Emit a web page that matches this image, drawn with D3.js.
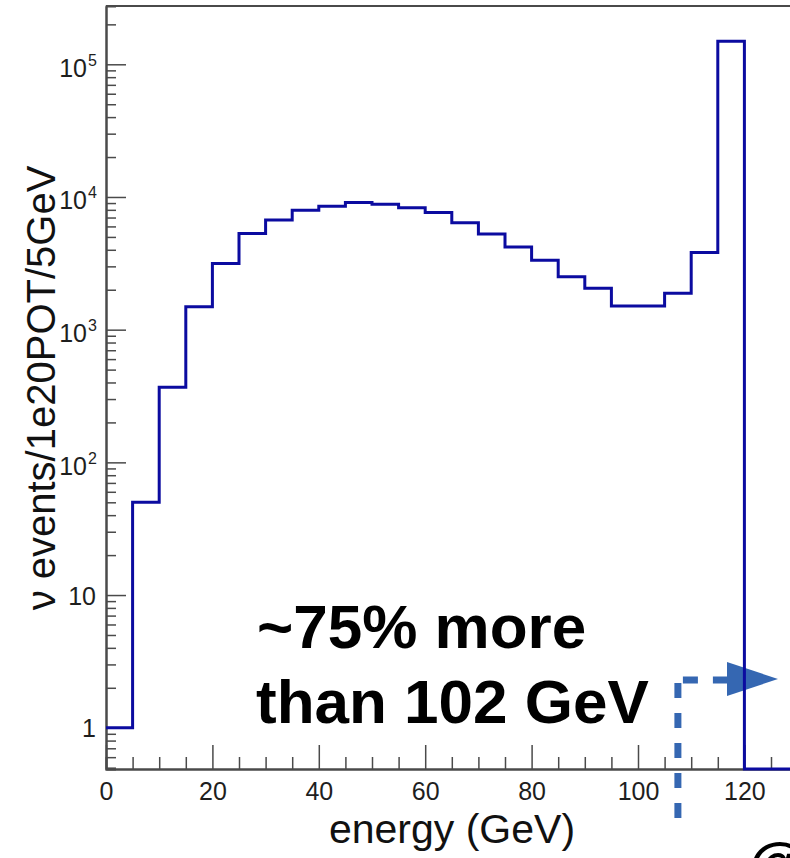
<!DOCTYPE html>
<html>
<head>
<meta charset="utf-8">
<script src="https://cdn.jsdelivr.net/npm/d3@7"></script>
<style>
body { margin: 0; background: #fff; }
svg { display: block; }
text { font-family: "Liberation Sans", Arial, sans-serif; }
</style>
</head>
<body>
<svg id="chart" width="790" height="858"></svg>
<script>
// histogram data: 5 GeV bins, low edges and contents
var binStarts = [0, 5, 10, 15, 20, 25, 30, 35, 40, 45, 50, 55, 60, 65, 70, 75, 80, 85, 90, 95, 100, 105, 110, 115, 120, 125];
var counts = [1, 50, 368, 1490, 3150, 5300, 6700, 7950, 8500, 9100, 8800, 8300, 7650, 6400, 5250, 4200, 3330, 2500, 2050, 1505, 1505, 1880, 3820, 149000, 0, 0];
var binWidth = 5;

// axis ticks
var xMajor = [0, 20, 40, 60, 80, 100, 120];
var xMinor = [5, 10, 15, 25, 30, 35, 45, 50, 55, 65, 70, 75, 85, 90, 95, 105, 110, 115, 125];
var yMajor = [1, 10, 100, 1000, 10000, 100000];
var yExponents = [null, null, 2, 3, 4, 5];

var xTitle = "energy (GeV)";
var yTitle = "\u03bd events/1e20POT/5GeV";
var noteLines = ["~75% more", "than 102 GeV"];

var svg = d3.select("#chart");
var axisColor = "#4a4a4a";
var lineColor = "#0b0ba0";
var noteColor = "#3567b2";
var labelSize = 25;

var x = d3.scaleLinear().domain([0, 130]).range([106, 106 + 130 * 5.32]);
var y = d3.scaleLog().domain([0.4886, 2.75e5]).range([769, 6]);

// minor y ticks, 2..9 per decade inside domain
var yMinor = [];
[0.1, 1, 10, 100, 1000, 10000, 100000].forEach(function(d) {
	for (var k = 2; k <= 9; k++) {
		var v = d * k;
		if (v >= y.domain()[0] && v <= y.domain()[1]) yMinor.push(v);
	}
});

// annotation arrow (drawn under histogram)
var ax = x(107.5), ay = 680;
var note = svg.append("g").attr("fill", "none").attr("stroke", noteColor).attr("stroke-width", 7);
note.append("line").attr("x1", ax).attr("x2", ax).attr("y1", 683).attr("y2", 818)
	.attr("stroke-dasharray", "15,15");
note.append("line").attr("x1", ax + 5).attr("x2", 727).attr("y1", ay).attr("y2", ay)
	.attr("stroke-dasharray", "15,15");
svg.append("path")
	.attr("d", "M727,662 L778,679 L727,696 Z")
	.attr("fill", noteColor);

// frame
svg.append("line").attr("x1", 106).attr("x2", x(130)).attr("y1", 6).attr("y2", 6)
	.attr("stroke", axisColor).attr("stroke-width", 2);

// x axis
var gx = svg.append("g").attr("transform", "translate(0,769)");
gx.call(d3.axisBottom(x).tickValues(xMajor).tickSize(-24).tickSizeOuter(0).tickPadding(13));
gx.append("g").call(d3.axisBottom(x).tickValues(xMinor).tickSize(-12).tickFormat(""));
gx.selectAll("path.domain").attr("stroke", axisColor).attr("stroke-width", 2);
gx.selectAll(".tick line").attr("stroke", axisColor).attr("stroke-width", 1.5);
gx.selectAll(".tick text").attr("font-size", labelSize).attr("fill", "#1e1e1e")
	.attr("font-family", "Liberation Sans, Arial, sans-serif");

// y axis
var gy = svg.append("g").attr("transform", "translate(106,0)");
gy.call(d3.axisLeft(y).tickValues(yMajor).tickSize(-20).tickSizeOuter(0).tickFormat(""));
gy.append("g").call(d3.axisLeft(y).tickValues(yMinor).tickSize(-10).tickFormat(""));
gy.selectAll("path.domain").attr("stroke", axisColor).attr("stroke-width", 2);
gy.selectAll(".tick line").attr("stroke", axisColor).attr("stroke-width", 1.5);
gy.selectAll(".tick").filter(function(d) { return yMajor.indexOf(d) >= 0; })
	.each(function(d) {
		var i = yMajor.indexOf(d);
		var g = d3.select(this);
		if (yExponents[i] === null) {
			g.append("text").attr("x", -10).attr("dy", 9).attr("text-anchor", "end")
				.attr("font-size", labelSize).attr("fill", "#1e1e1e").text(String(d));
		} else {
			g.append("text").attr("x", -19).attr("dy", 12).attr("text-anchor", "end")
				.attr("font-size", labelSize).attr("fill", "#1e1e1e").text("10");
			g.append("text").attr("x", -18).attr("dy", 1).attr("text-anchor", "start")
				.attr("font-size", 16).attr("fill", "#1e1e1e").text(yExponents[i]);
		}
	});

// titles
svg.append("text").attr("x", 452).attr("y", 843).attr("text-anchor", "middle")
	.attr("font-size", 41).attr("fill", "#111").text(xTitle);
svg.append("text").attr("transform", "translate(55,388) rotate(-90)").attr("text-anchor", "middle")
	.attr("font-size", 40).attr("fill", "#111").text(yTitle);

// histogram outline
var pts = [];
binStarts.forEach(function(b, i) {
	pts.push([b, counts[i]]);
	pts.push([b + binWidth, counts[i]]);
});
var line = d3.line()
	.x(function(d) { return x(d[0]); })
	.y(function(d) { return d[1] > 0 ? y(d[1]) : y.range()[0]; });
svg.append("path").datum(pts).attr("d", line)
	.attr("fill", "none").attr("stroke", lineColor).attr("stroke-width", 3);

// annotation text
svg.append("text").attr("x", 257).attr("y", 648).attr("font-size", 62).attr("font-weight", "bold")
	.attr("fill", "#000").text(noteLines[0]);
svg.append("text").attr("x", 256).attr("y", 723).attr("font-size", 62).attr("font-weight", "bold")
	.attr("fill", "#000").text(noteLines[1]);

// glyph cut off by the bottom edge, as in the source picture
svg.append("text").attr("x", 748).attr("y", 884).attr("font-size", 60).attr("font-weight", "bold")
	.attr("fill", "#000").text("@");
</script>
</body>
</html>
